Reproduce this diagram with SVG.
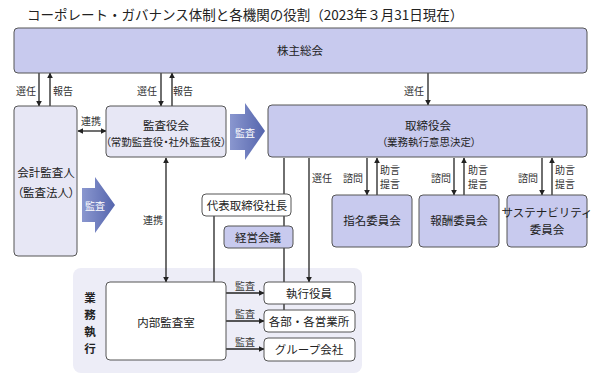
<svg xmlns="http://www.w3.org/2000/svg" width="600" height="388" viewBox="0 0 600 388">
<defs>
<style>
text{font-family:"Noto Sans CJK JP","Noto Sans",sans-serif;fill:#222;}
.t{font-size:13.5px;}
.m{font-size:11.5px;text-anchor:middle;dominant-baseline:central;}
.p{font-feature-settings:"palt" 1;}
.n{font-size:10.5px;text-anchor:middle;dominant-baseline:central;font-feature-settings:"palt" 1;}
.s{font-size:10px;text-anchor:middle;dominant-baseline:central;fill:#333;}
.w{font-size:10px;text-anchor:middle;dominant-baseline:central;fill:#fff;}
.dk{fill:#c8caee;stroke:#555;stroke-width:1;}
.lt{fill:#e7e7f5;stroke:#555;stroke-width:1;}
.wh{fill:#fff;stroke:#555;stroke-width:1;}
.ln{stroke:#222;stroke-width:1.3;fill:none;}
.a{marker-end:url(#ah);}
.b{marker-start:url(#ah);marker-end:url(#ah);}
</style>
<marker id="ah" viewBox="0 0 10 10" refX="9" refY="5" markerWidth="6" markerHeight="6" markerUnits="userSpaceOnUse" orient="auto-start-reverse">
<path d="M0,0 L10,5 L0,10 z" fill="#222"/>
</marker>
<linearGradient id="bg" x1="0" y1="0" x2="1" y2="0">
<stop offset="0" stop-color="#8a97cf"/>
<stop offset="1" stop-color="#5565ad"/>
</linearGradient>
</defs>
<rect width="600" height="388" fill="#fff"/>
<text class="t" x="27" y="20">コーポレート・ガバナンス体制と各機関の役割（2023年３月31日現在）</text>

<g id="exec-area"><rect x="73" y="268" width="289" height="105" rx="8" fill="#ededf7"/>
<text class="m" x="90" y="297" font-weight="bold">業</text>
<text class="m" x="90" y="314" font-weight="bold">務</text>
<text class="m" x="90" y="331" font-weight="bold">執</text>
<text class="m" x="90" y="348" font-weight="bold">行</text></g>

<g id="connectors">
<line class="ln a" x1="39" y1="73" x2="39" y2="106"/>
<line class="ln a" x1="50" y1="106" x2="50" y2="73"/>
<line class="ln a" x1="161" y1="73" x2="161" y2="106"/>
<line class="ln a" x1="172" y1="106" x2="172" y2="73"/>
<line class="ln a" x1="428" y1="73" x2="428" y2="105"/>
<line class="ln b" x1="78" y1="131" x2="106" y2="131"/>
<line class="ln b" x1="166" y1="158" x2="166" y2="282"/>
<line class="ln a" x1="367" y1="158" x2="367" y2="195"/>
<line class="ln a" x1="377" y1="195" x2="377" y2="158"/>
<line class="ln a" x1="454" y1="158" x2="454" y2="195"/>
<line class="ln a" x1="464" y1="195" x2="464" y2="158"/>
<line class="ln a" x1="542" y1="158" x2="542" y2="195"/>
<line class="ln a" x1="552" y1="195" x2="552" y2="158"/>
<line class="ln a" x1="309" y1="158" x2="309" y2="282"/>
<line class="ln" x1="284" y1="158" x2="284" y2="282"/>
<line class="ln" x1="284" y1="304" x2="284" y2="310"/>
<line class="ln" x1="214" y1="216" x2="214" y2="282"/>
<line class="ln a" x1="226" y1="293" x2="264" y2="293"/>
<line class="ln a" x1="226" y1="321" x2="264" y2="321"/>
<line class="ln a" x1="226" y1="349" x2="264" y2="349"/>
<text class="s" x="26" y="90">選任</text>
<text class="s" x="63" y="90">報告</text>
<text class="s" x="147" y="90">選任</text>
<text class="s" x="183" y="90">報告</text>
<text class="s" x="414" y="90">選任</text>
<text class="s" x="91" y="120">連携</text>
<text class="s" x="153" y="219">連携</text>
<text class="s" x="322" y="177">選任</text>
<text class="s" x="353" y="177">諮問</text>
<text class="s" x="390" y="169">助言</text>
<text class="s" x="390" y="183">提言</text>
<text class="s" x="441" y="177">諮問</text>
<text class="s" x="478" y="169">助言</text>
<text class="s" x="478" y="183">提言</text>
<text class="s" x="528" y="177">諮問</text>
<text class="s" x="565" y="169">助言</text>
<text class="s" x="565" y="183">提言</text>
<text class="s" x="245" y="285">監査</text>
<text class="s" x="245" y="313">監査</text>
<text class="s" x="245" y="341">監査</text>
<polygon points="230,114 245,114 245,103 265,131 245,160 245,150 230,150" fill="url(#bg)"/>
<text class="w" x="245" y="132">監査</text>
<polygon points="82,188 95,188 95,177 115,205 95,233 95,222 82,222" fill="url(#bg)"/>
<text class="w" x="95" y="205">監査</text>
</g>

<g id="shareholders"><rect class="dk" x="14" y="28" width="573" height="45" rx="4"/>
<text class="m" x="300" y="50">株主総会</text></g>

<g id="auditor"><rect class="lt" x="14" y="106" width="63" height="150" rx="4"/>
<text class="m" x="46" y="172">会計監査人</text>
<text class="m p" x="46" y="192">（監査法人）</text></g>

<g id="audit-board"><rect class="lt" x="106" y="106" width="120" height="51" rx="4"/>
<text class="m" x="166" y="125">監査役会</text>
<text class="n" x="166" y="141" font-size="10.2">（常勤監査役・社外監査役）</text></g>

<g id="board"><rect class="dk" x="268" y="105" width="319" height="52" rx="4"/>
<text class="m" x="428" y="125">取締役会</text>
<text class="n" x="429" y="141">（業務執行意思決定）</text></g>

<g id="nomination"><rect class="dk" x="332" y="195" width="80" height="52" rx="4"/>
<text class="m" x="372" y="220">指名委員会</text></g>

<g id="compensation"><rect class="dk" x="419" y="195" width="80" height="52" rx="4"/>
<text class="m" x="459" y="220">報酬委員会</text></g>

<g id="sustainability"><rect class="dk" x="507" y="195" width="80" height="52" rx="4"/>
<text class="m" x="547" y="212">サステナビリティ</text>
<text class="m" x="547" y="229">委員会</text></g>

<g id="president"><rect class="wh" x="202" y="194" width="89" height="22" rx="4"/>
<text class="m" x="247" y="205">代表取締役社長</text></g>

<g id="management-meeting"><rect class="dk" x="224" y="226" width="69" height="22" rx="4"/>
<text class="m" x="258" y="237">経営会議</text></g>

<g id="internal-audit"><rect class="wh" x="106" y="282" width="120" height="78" rx="4"/>
<text class="m" x="166" y="322">内部監査室</text></g>

<g id="officers"><rect class="wh" x="264" y="282" width="91" height="22" rx="4"/>
<text class="m" x="309" y="293">執行役員</text></g>

<g id="divisions"><rect class="wh" x="264" y="310" width="91" height="22" rx="4"/>
<text class="m" x="309" y="321">各部・各営業所</text></g>

<g id="group"><rect class="wh" x="264" y="338" width="91" height="23" rx="4"/>
<text class="m" x="309" y="349">グループ会社</text></g>
</svg>
